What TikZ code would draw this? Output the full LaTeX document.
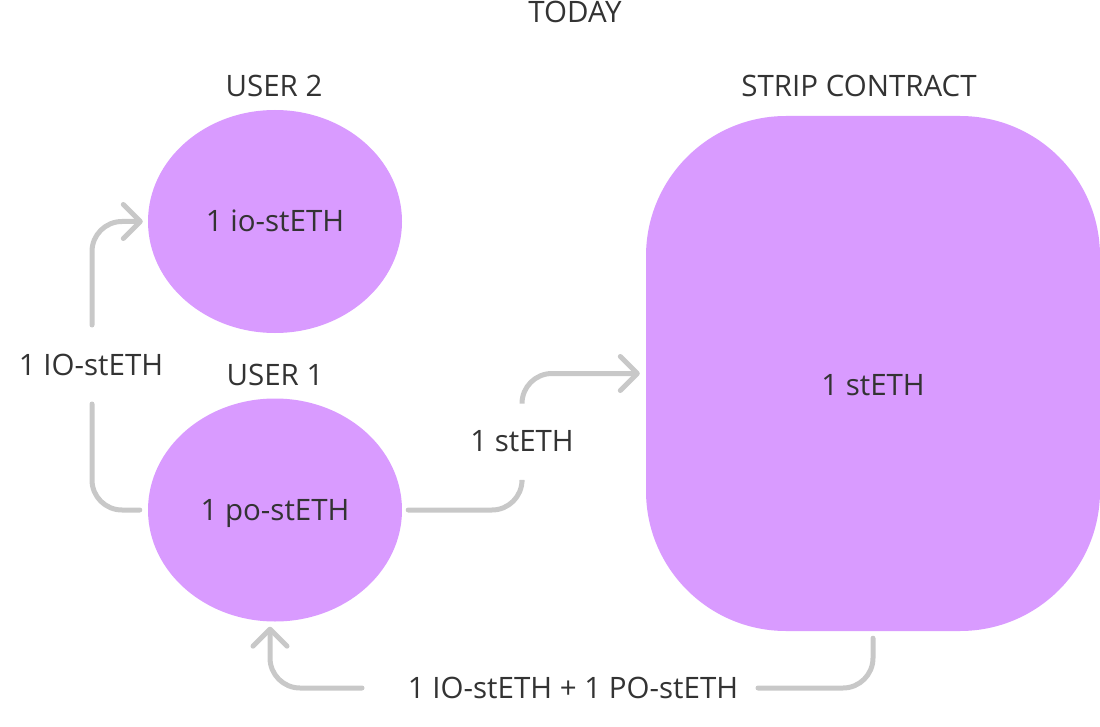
\documentclass[tikz,border=0pt]{standalone}
\usepackage{fontspec}
\setmainfont{Open Sans}
\usetikzlibrary{shapes.geometric,arrows.meta}
\definecolor{blob}{HTML}{D99BFF}
\definecolor{wire}{HTML}{C8C8C8}
\definecolor{ink}{HTML}{333333}
\begin{document}
\begin{tikzpicture}[x=1pt,y=-1pt,
  title/.style={text=ink,font=\fontsize{29.5}{34}\selectfont,inner sep=0pt},
  body/.style={text=ink,font=\fontsize{29.5}{34}\selectfont,text height=24pt,text depth=3pt},
  userblob/.style={ellipse,fill=blob,minimum width=254pt,minimum height=223pt,inner sep=0pt},
  wireline/.style={draw=wire,line width=5pt,line cap=round,rounded corners=30pt},
  wire/.style={wireline,-{Straight Barb[length=17pt,width=34pt,round]}},
  lbl/.style={body,inner sep=0pt}]
\useasboundingbox (0,0) rectangle (1100,727);
\node[title] (today) at (575,12) {TODAY};
\node[title] (t2) at (274,86) {USER 2};
\node[title] (t1) at (275,375) {USER 1};
\node[title] (tsc) at (859,86) {STRIP CONTRACT};
\node[userblob,body] (u2) at (275,221.5) {1 io-stETH};
\node[userblob,body] (u1) at (275,510) {1 po-stETH};
\node[fill=blob,rounded corners=140pt,minimum width=454pt,minimum height=515pt,inner sep=0pt] (sc) at (873,373.5) {};
\node[lbl] (sctext) at (873,385) {1 stETH};
% connector 1: user 1 -> user 2
\node[lbl] (l1) at (91,365) {1 IO-stETH};
\coordinate (g1a) at (92,404);
\coordinate (g1b) at (92,325);
\draw[wireline] ([xshift=-8pt]u1.west) -| (g1a);
\draw[wire] (g1b) |- ([xshift=-5pt]u2.west);
% connector 2: user 1 -> strip contract
\node[lbl] (l2) at (522,441) {1 stETH};
\coordinate (g2a) at (522,482);
\coordinate (g2b) at (522,402);
\draw[wireline] ([xshift=6pt]u1.east) -| (g2a);
\draw[wire] (g2b) |- ([xshift=-6pt]sc.west);
% connector 3: strip contract -> user 1
\node[lbl] (l3) at (573,688) {1 IO-stETH + 1 PO-stETH};
\coordinate (g3a) at (758,688);
\coordinate (g3b) at (362,688);
\draw[wireline] ([yshift=-7pt]sc.south) |- (g3a);
\draw[wire] (g3b) -| ([xshift=-5pt,yshift=-5pt]u1.south);
\end{tikzpicture}
\end{document}
